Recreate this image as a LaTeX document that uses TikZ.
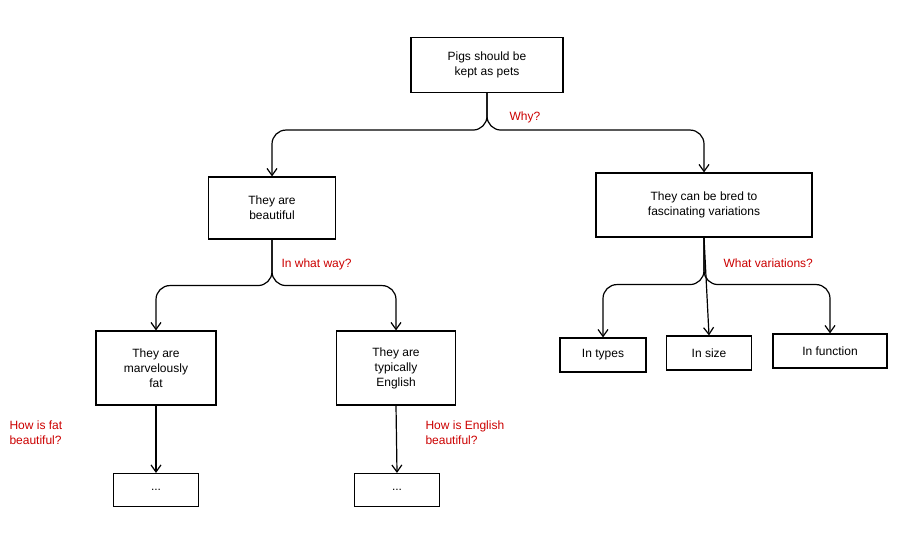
\documentclass[tikz,border=0pt]{standalone}
\usepackage{fontspec}
\setmainfont{Liberation Sans}
\usetikzlibrary{arrows.meta}
\begin{document}
\begin{tikzpicture}[x=1pt,y=-1pt,
  box/.style={draw,line width=1.1pt,align=center,font=\fontsize{12}{15}\selectfont,inner sep=0pt},
  con/.style={line width=1.2pt,rounded corners=14pt,-{Straight Barb[length=7pt,width=10pt]}},
  lab/.style={text=red!80!black,font=\fontsize{12}{15}\selectfont,align=left,anchor=west}]
\fill[white] (0,0) rectangle (901,535);
\useasboundingbox (0,0) rectangle (901,535);
\node[box,minimum width=152pt,minimum height=55pt] (root) at (487,65) {Pigs should be\\kept as pets};
\node[box,minimum width=127pt,minimum height=62pt] (b) at (272,208) {They are\\beautiful};
\node[box,minimum width=216pt,minimum height=64pt] (v) at (704,205) {They can be bred to\\fascinating variations};
\node[box,minimum width=120pt,minimum height=74pt] (f) at (156,368) {They are\\marvelously\\fat};
\node[box,minimum width=119pt,minimum height=74pt] (e) at (396,368) {They are\\typically\\English};
\node[box,minimum width=85pt,minimum height=33pt] (d1) at (156,490) {...};
\node[box,minimum width=85pt,minimum height=33pt] (d2) at (397,490) {...};
\node[box,minimum width=86pt,minimum height=34pt] (t) at (603,355) {In types};
\node[box,minimum width=85pt,minimum height=34pt] (s) at (709,353) {In size};
\node[box,minimum width=114pt,minimum height=34pt] (fn) at (830,351) {In function};
\draw[con] (root.south) -- ++(0,37) -| (b.north);
\draw[con] (root.south) -- ++(0,37) -| (v.north);
\draw[con] (b.south) -- ++(0,46) -| (f.north);
\draw[con] (b.south) -- ++(0,46) -| (e.north);
\draw[con] (v.south) -- ++(0,47) -| (t.north);
\draw[con,rounded corners=0pt] (v.south) -- (s.north);
\draw[con] (v.south) -- ++(0,47) -| (fn.north);
\draw[con] (f.south) -- (d1.north);
\draw[con] (e.south) -- (d2.north);
\node[lab] (l1) at (506,117) {Why?};
\node[lab] (l2) at (278,264) {In what way?};
\node[lab] (l3) at (720,263) {What variations?};
\node[lab] (l4) at (6,433) {How is fat\\beautiful?};
\node[lab] (l5) at (422,433) {How is English\\beautiful?};
\end{tikzpicture}
\end{document}
